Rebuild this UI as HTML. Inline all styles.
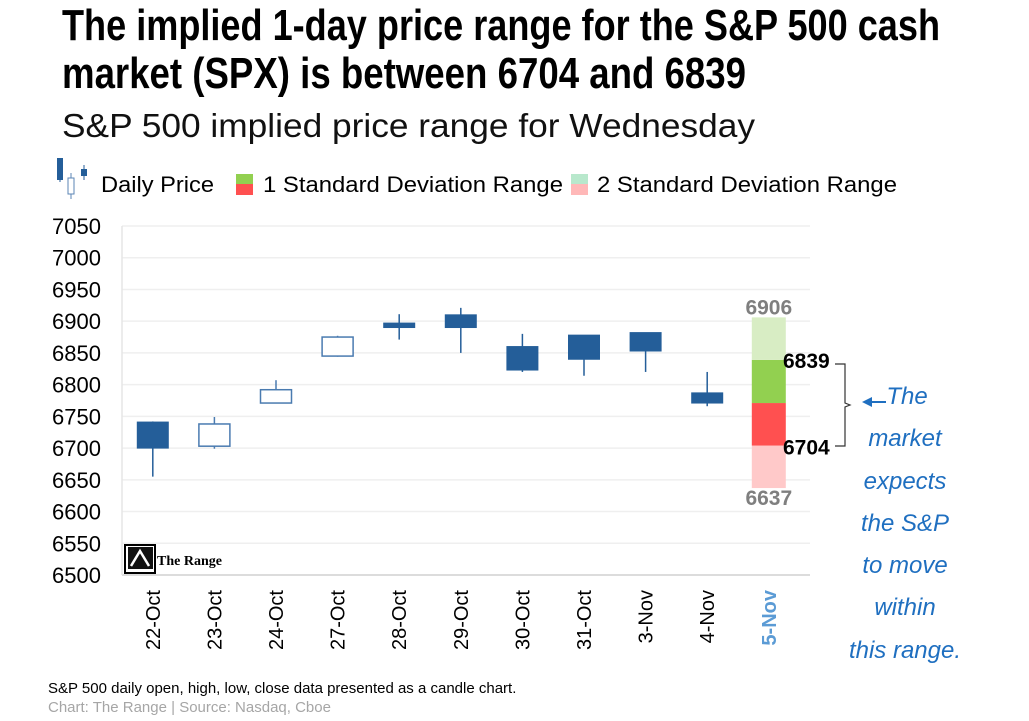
<!DOCTYPE html>
<html><head><meta charset="utf-8"><style>
html,body{margin:0;padding:0;background:#fff}
svg{display:block}
text{font-family:"Liberation Sans",sans-serif}
</style></head><body>
<svg id="chart" width="1029" height="721" viewBox="0 0 1029 721" xmlns="http://www.w3.org/2000/svg">
<text x="62" y="40" font-size="44" font-weight="bold" textLength="878" lengthAdjust="spacingAndGlyphs" style="font-family:'Liberation Sans Narrow','Liberation Sans',sans-serif">The implied 1-day price range for the S&amp;P 500 cash</text>
<text x="62" y="88" font-size="44" font-weight="bold" textLength="684" lengthAdjust="spacingAndGlyphs" style="font-family:'Liberation Sans Narrow','Liberation Sans',sans-serif">market (SPX) is between 6704 and 6839</text>
<text x="62" y="137" font-size="33" textLength="693" lengthAdjust="spacingAndGlyphs" fill="#111" style="font-family:'Liberation Sans Narrow','Liberation Sans',sans-serif">S&amp;P 500 implied price range for  Wednesday</text>

<g>
  <line x1="60" y1="158" x2="60" y2="182" stroke="#245e99" stroke-width="1"/>
  <rect x="57" y="158" width="6" height="22" fill="#245e99"/>
  <line x1="71" y1="173" x2="71" y2="199" stroke="#5b86b5"/>
  <rect x="68" y="178" width="6" height="16" fill="#fff" stroke="#5b86b5"/>
  <line x1="84" y1="165" x2="84" y2="180" stroke="#245e99"/>
  <rect x="81" y="169" width="6" height="7" fill="#245e99"/>
  <text x="101" y="192" font-size="22" textLength="113" lengthAdjust="spacingAndGlyphs" style="font-family:'Liberation Sans Narrow','Liberation Sans',sans-serif">Daily Price</text>
  <rect x="236" y="174" width="17" height="10" fill="#92d050"/>
  <rect x="236" y="184" width="17" height="11" fill="#ff5050"/>
  <text x="263" y="192" font-size="22" textLength="300" lengthAdjust="spacingAndGlyphs" style="font-family:'Liberation Sans Narrow','Liberation Sans',sans-serif">1 Standard Deviation Range</text>
  <rect x="571" y="174" width="17" height="10" fill="#b8e8cc"/>
  <rect x="571" y="184" width="17" height="11" fill="#ffb8b8"/>
  <text x="597" y="192" font-size="22" textLength="300" lengthAdjust="spacingAndGlyphs" style="font-family:'Liberation Sans Narrow','Liberation Sans',sans-serif">2 Standard Deviation Range</text>
</g>

<g id="grid"></g>
<g id="yticks"></g>
<g id="candles"></g>
<g id="range"></g>
<g id="xticks"></g>

<g>
  <rect x="125" y="545" width="30" height="28" fill="#fff" stroke="#000" stroke-width="2"/>
  <rect x="128" y="547" width="25" height="22" fill="#111"/>
  <path d="M131 566 L140 551 L149 566" stroke="#fff" stroke-width="2.5" fill="none"/>
  <text x="157" y="565" font-size="14" font-weight="bold" style="font-family:'Liberation Serif',serif">The Range</text>
</g>

<g>
  <path d="M835 364 H845 V403 L850 405 L845 407 V446 H835" stroke="#333" stroke-width="1.2" fill="none"/>
  <line x1="870" y1="402" x2="886" y2="402" stroke="#1f6fc0" stroke-width="2"/>
  <path d="M862 402 L872 397 L872 407 Z" fill="#1f6fc0"/>
  <g font-size="24" fill="#1f6fc0" text-anchor="middle" font-style="italic" style="font-family:'DejaVu Sans',sans-serif">
    <text x="907" y="404">The</text>
    <text x="905" y="446">market</text>
    <text x="905" y="489">expects</text>
    <text x="905" y="531">the S&amp;P</text>
    <text x="905" y="573">to move</text>
    <text x="905" y="615">within</text>
    <text x="905" y="658">this range.</text>
  </g>
</g>

<text x="48" y="693" font-size="15">S&amp;P 500 daily open, high, low, close data presented as a candle chart.</text>
<text x="48" y="712" font-size="15" fill="#a6a6a6">Chart: The Range | Source: Nasdaq, Cboe</text>
</svg>
<script>
const categories=["22-Oct","23-Oct","24-Oct","27-Oct","28-Oct","29-Oct","30-Oct","31-Oct","3-Nov","4-Nov","5-Nov"];
const opens=[6741,6703,6771,6845,6897,6910,6860,6878,6882,6787];
const highs=[6742,6749,6807,6877,6911,6921,6880,6878,6882,6820];
const lows=[6655,6699,6771,6844,6871,6850,6820,6814,6820,6766];
const closes=[6700,6738,6792,6875,6890,6890,6823,6840,6853,6771];
const rangeLevels=[6637,6704,6771,6839,6906];
const yTicks=[6500,6550,6600,6650,6700,6750,6800,6850,6900,6950,7000,7050];
const NS="http://www.w3.org/2000/svg";
const yMin=6500,yMax=7050,plotTop=226,plotBottom=575,plotLeft=122,band=61.6;
function y(v){return plotBottom-(v-yMin)/(yMax-yMin)*(plotBottom-plotTop);}
function x(i){return plotLeft+band*(i+0.5);}
function mk(tag,attrs,parent){const e=document.createElementNS(NS,tag);for(const k in attrs)e.setAttribute(k,attrs[k]);parent.appendChild(e);return e;}
const grid=document.getElementById('grid'),yt=document.getElementById('yticks');
yTicks.forEach(t=>{
  const l=mk('line',{x1:plotLeft,x2:810,y1:y(t),y2:y(t),stroke:t===yMin?'#d0d0d0':'#efefef','stroke-width':1.5},grid);
  
  
  const tx=mk('text',{x:101,y:y(t)+8,'font-size':22,'text-anchor':'end'},yt);
  tx.textContent=t;
  
  
});
const ax=mk('line',{x1:plotLeft,x2:plotLeft,y1:plotTop,y2:plotBottom,stroke:'#e6e6e6','stroke-width':1.5},grid);


const cg=document.getElementById('candles');
opens.forEach((o,i)=>{
  const c=closes[i],up=c>=o,cx=x(i),w=31;
  const g=mk('g',{},cg);
  
  
  const col=up?'#4a7bb0':'#245e99';
  mk('line',{x1:cx,x2:cx,y1:y(highs[i]),y2:y(lows[i]),stroke:col,'stroke-width':1.5},g);
  const t=y(Math.max(o,c)),b=y(Math.min(o,c));
  if(up) mk('rect',{x:cx-w/2,y:t,width:w,height:Math.max(b-t,1),fill:'#fff',stroke:col,'stroke-width':1.5},g);
  else mk('rect',{x:cx-w/2,y:t,width:w,height:Math.max(b-t,2),fill:'#245e99',stroke:'#245e99','stroke-width':1},g);
});
const rg=document.getElementById('range');
const ri=categories.length-1,rx=x(ri)-17,rw=34;
const rcols=['#ffc9c9','#ff5050','#92d050','#d8edc4'];
const rnames=['range-2sd-low','range-1sd-low','range-1sd-high','range-2sd-high'];
for(let k=0;k<4;k++){
  const r=mk('rect',{x:rx,y:y(rangeLevels[k+1]),width:rw,height:y(rangeLevels[k])-y(rangeLevels[k+1]),fill:rcols[k]},rg);
  
  
}
function lbl(txt,xx,yy,col,anchor,name){const t=mk('text',{x:xx,y:yy,'font-size':21,'font-weight':'bold',fill:col,'text-anchor':anchor},rg);t.textContent=txt;
  
  }
lbl(rangeLevels[4],x(ri),y(rangeLevels[4])-3,'#7f7f7f','middle','label-2sd-high');
lbl(rangeLevels[0],x(ri),y(rangeLevels[0])+17,'#7f7f7f','middle','label-2sd-low');
lbl(rangeLevels[3],783,y(rangeLevels[3])+8,'#000','start','label-1sd-high');
lbl(rangeLevels[1],783,y(rangeLevels[1])+9,'#000','start','label-1sd-low');
const xg=document.getElementById('xticks');
categories.forEach((c,i)=>{
  const last=i===categories.length-1;
  const t=mk('text',{x:0,y:0,'font-size':20,'text-anchor':'end',transform:`translate(${x(i)+7},590) rotate(-90)`,fill:last?'#5b9bd5':'#000','font-weight':last?'bold':'normal'},xg);
  t.textContent=c;
  
  
});
</script>
</body></html>
